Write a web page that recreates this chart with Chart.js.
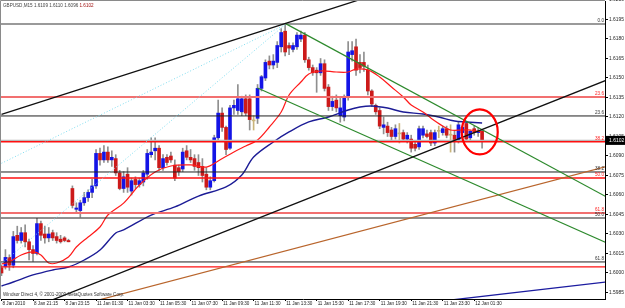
<!DOCTYPE html>
<html>
<head>
<meta charset="utf-8">
<script src="https://cdn.jsdelivr.net/npm/chart.js@4.4.0/dist/chart.umd.min.js"></script>
<style>
  html, body { margin: 0; padding: 0; background: #fff; }
  #wrap { width: 625px; height: 308px; }
</style>
</head>
<body>
<div id="wrap"><canvas id="chart" width="625" height="308"></canvas></div>
<script>
/* =============================================
   DATA — GBPUSD M15, 123 bars
   ============================================= */
const xLabels = ['8 Jan 2010', '8 Jan 21:15', '8 Jan 23:15', '11 Jan 01:30', '11 Jan 03:30',
  '11 Jan 05:30', '11 Jan 07:30', '11 Jan 09:30', '11 Jan 11:30', '11 Jan 13:30', '11 Jan 15:30',
  '11 Jan 17:30', '11 Jan 19:30', '11 Jan 21:30', '11 Jan 23:30', '12 Jan 01:30'];
const xTickBars = [0, 8, 16, 24, 32, 40, 48, 56, 64, 72, 80, 88, 96, 104, 112, 120];
const yTicks = [1.5985, 1.6000, 1.6015, 1.6030, 1.6045, 1.6060, 1.6075, 1.6090,
  1.6105, 1.6120, 1.6135, 1.6150, 1.6165, 1.6180, 1.6195, 1.6210];

const open = [
  1.6004, 1.6005, 1.6012, 1.6006, 1.6029, 1.6025, 1.6031, 1.6024, 1.6018, 1.6015,
  1.6038, 1.6030, 1.6027, 1.6031, 1.6028, 1.6026, 1.6027, 1.6025, 1.6065, 1.6049,
  1.6048, 1.6054, 1.6058, 1.6062, 1.6067, 1.6092, 1.6087, 1.6093, 1.6087, 1.6088,
  1.6077, 1.6065, 1.6076, 1.6063, 1.6072, 1.6068, 1.6070, 1.6076, 1.6091, 1.6094,
  1.6096, 1.6081, 1.6089, 1.6090, 1.6083, 1.6081, 1.6080, 1.6094, 1.6089, 1.6088,
  1.6085, 1.6082, 1.6076, 1.6066, 1.6071, 1.6104, 1.6123, 1.6112, 1.6096, 1.6127,
  1.6125, 1.6124, 1.6134, 1.6134, 1.6117, 1.6119, 1.6142, 1.6150, 1.6163, 1.6160,
  1.6162, 1.6174, 1.6186, 1.6175, 1.6172, 1.6174, 1.6180, 1.6183, 1.6164, 1.6158,
  1.6156, 1.6154, 1.6161, 1.6143, 1.6128, 1.6133, 1.6121, 1.6120, 1.6135, 1.6168,
  1.6174, 1.6162, 1.6162, 1.6156, 1.6140, 1.6129, 1.6125, 1.6112, 1.6113, 1.6110,
  1.6105, 1.6107, 1.6108, 1.6103, 1.6103, 1.6099, 1.6097, 1.6106, 1.6107, 1.6108,
  1.6100, 1.6109, 1.6108, 1.6111, 1.6106, 1.6106, 1.6101, 1.6108, 1.6115, 1.6104,
  1.6111, 1.6108, 1.6109];
const high = [
  1.6006, 1.6018, 1.6014, 1.6032, 1.6036, 1.6035, 1.6037, 1.6026, 1.6021, 1.6042,
  1.6040, 1.6036, 1.6035, 1.6033, 1.6031, 1.6029, 1.6028, 1.6026, 1.6067, 1.6054,
  1.6056, 1.6062, 1.6064, 1.6072, 1.6095, 1.6096, 1.6098, 1.6097, 1.6094, 1.6091,
  1.6079, 1.6078, 1.6081, 1.6073, 1.6074, 1.6073, 1.6079, 1.6095, 1.6104, 1.6104,
  1.6098, 1.6091, 1.6091, 1.6093, 1.6087, 1.6083, 1.6096, 1.6098, 1.6095, 1.6091,
  1.6091, 1.6088, 1.6081, 1.6074, 1.6106, 1.6133, 1.6127, 1.6113, 1.6129, 1.6133,
  1.6145, 1.6136, 1.6137, 1.6137, 1.6121, 1.6145, 1.6152, 1.6164, 1.6167, 1.6168,
  1.6178, 1.6188, 1.6192, 1.6177, 1.6177, 1.6185, 1.6186, 1.6185, 1.6166, 1.6160,
  1.6158, 1.6165, 1.6164, 1.6145, 1.6136, 1.6137, 1.6135, 1.6137, 1.6178, 1.6178,
  1.6180, 1.6168, 1.6170, 1.6160, 1.6141, 1.6130, 1.6127, 1.6120, 1.6116, 1.6112,
  1.6114, 1.6115, 1.6110, 1.6108, 1.6106, 1.6101, 1.6113, 1.6113, 1.6110, 1.6110,
  1.6110, 1.6113, 1.6113, 1.6113, 1.6114, 1.6109, 1.6116, 1.6113, 1.6116, 1.6110,
  1.6113, 1.6112, 1.6110];
const low = [
  1.5998, 1.6003, 1.6002, 1.6004, 1.6023, 1.6023, 1.6020, 1.6010, 1.6009, 1.6014,
  1.6025, 1.6023, 1.6024, 1.6025, 1.6023, 1.6023, 1.6024, 1.6024, 1.6050, 1.6046,
  1.6043, 1.6052, 1.6055, 1.6058, 1.6065, 1.6083, 1.6085, 1.6085, 1.6082, 1.6075,
  1.6064, 1.6062, 1.6062, 1.6060, 1.6065, 1.6066, 1.6067, 1.6072, 1.6089, 1.6087,
  1.6079, 1.6079, 1.6083, 1.6085, 1.6071, 1.6075, 1.6078, 1.6087, 1.6085, 1.6079,
  1.6075, 1.6070, 1.6064, 1.6064, 1.6070, 1.6102, 1.6109, 1.6091, 1.6095, 1.6122,
  1.6122, 1.6121, 1.6121, 1.6110, 1.6110, 1.6115, 1.6140, 1.6148, 1.6157, 1.6157,
  1.6158, 1.6170, 1.6167, 1.6168, 1.6170, 1.6172, 1.6178, 1.6162, 1.6156, 1.6152,
  1.6139, 1.6152, 1.6140, 1.6125, 1.6125, 1.6124, 1.6116, 1.6117, 1.6133, 1.6163,
  1.6152, 1.6154, 1.6155, 1.6137, 1.6128, 1.6122, 1.6111, 1.6107, 1.6105, 1.6102,
  1.6103, 1.6100, 1.6101, 1.6100, 1.6093, 1.6094, 1.6095, 1.6104, 1.6104, 1.6098,
  1.6098, 1.6104, 1.6106, 1.6104, 1.6093, 1.6093, 1.6100, 1.6105, 1.6101, 1.6102,
  1.6106, 1.6105, 1.6096];
const close = [
  1.6000, 1.6012, 1.6006, 1.6028, 1.6025, 1.6031, 1.6024, 1.6018, 1.6015, 1.6038,
  1.6029, 1.6027, 1.6030, 1.6027, 1.6025, 1.6024, 1.6025, 1.6024, 1.6052, 1.6050,
  1.6054, 1.6058, 1.6062, 1.6067, 1.6092, 1.6087, 1.6093, 1.6087, 1.6089, 1.6077,
  1.6065, 1.6074, 1.6066, 1.6071, 1.6068, 1.6071, 1.6077, 1.6092, 1.6093, 1.6096,
  1.6081, 1.6088, 1.6085, 1.6087, 1.6073, 1.6078, 1.6093, 1.6089, 1.6087, 1.6082,
  1.6081, 1.6075, 1.6066, 1.6071, 1.6104, 1.6123, 1.6112, 1.6095, 1.6127, 1.6129,
  1.6134, 1.6134, 1.6123, 1.6118, 1.6117, 1.6142, 1.6151, 1.6162, 1.6160, 1.6163,
  1.6175, 1.6185, 1.6170, 1.6173, 1.6175, 1.6183, 1.6183, 1.6164, 1.6158, 1.6154,
  1.6154, 1.6161, 1.6142, 1.6128, 1.6132, 1.6127, 1.6127, 1.6135, 1.6170, 1.6171,
  1.6156, 1.6158, 1.6159, 1.6140, 1.6130, 1.6124, 1.6113, 1.6114, 1.6108, 1.6105,
  1.6111, 1.6107, 1.6103, 1.6106, 1.6096, 1.6096, 1.6111, 1.6111, 1.6105, 1.6100,
  1.6108, 1.6109, 1.6111, 1.6106, 1.6106, 1.6101, 1.6114, 1.6112, 1.6103, 1.6109,
  1.6108, 1.6109, 1.6102];

/* moving averages, read at a handful of bars */
const redMaBars = [0, 2, 5, 8, 10, 12, 14, 17, 19, 22, 25, 27, 31, 35, 39, 43, 48, 52, 55, 59,
  62, 65, 68, 71, 73, 76, 78, 81, 85, 88, 90, 93, 96, 99, 102, 104, 107, 109, 112, 114, 117, 119, 122];
const redMaValues = [1.60069, 1.60085, 1.60138, 1.60162, 1.60138, 1.60077, 1.60077, 1.60123, 1.60200,
  1.60277, 1.60354, 1.60446, 1.60538, 1.60677, 1.60777, 1.60823, 1.60831, 1.60815, 1.60862, 1.60931,
  1.60977, 1.61023, 1.61123, 1.61238, 1.61369, 1.61469, 1.61531, 1.61554, 1.61546, 1.61546, 1.61569,
  1.61562, 1.61508, 1.61431, 1.61354, 1.61292, 1.61238, 1.61192, 1.61131, 1.61100, 1.61100, 1.61100,
  1.61085];
const blueMaBars = [0, 3, 8, 13, 17, 21, 25, 29, 31, 38, 44, 50, 57, 61, 64, 69, 73, 78, 83, 88,
  91, 94, 98, 102, 107, 111, 115, 118, 122];
const blueMaValues = [1.59900, 1.59931, 1.59985, 1.60023, 1.60046, 1.60100, 1.60177, 1.60308, 1.60331,
  1.60446, 1.60508, 1.60592, 1.60662, 1.60754, 1.60892, 1.61008, 1.61085, 1.61162, 1.61200, 1.61254,
  1.61277, 1.61285, 1.61269, 1.61238, 1.61223, 1.61200, 1.61169, 1.61162, 1.61154];

/* horizontal levels (two fibonacci retracements + bid) */
const redFibLevels = [1.61354, 1.61010, 1.60731, 1.60462, 1.60047];
const redFibLabels = ['23.6', '38.2', '50.0', '61.8', ''];
const blackFibLevels = [1.61915, 1.61208, 1.60777, 1.60423, 1.60085];
const blackFibLabels = ['0.0', '23.6', '38.2', '50.0', '61.8'];
const bidPrice = 1.6102;

/* trend lines: [bar, price] pairs */
const blackUpper = [[0, 1.61221], [92, 1.62113]];
const blackLower = [[12, 1.59782], [154, 1.61488]];
const greenUpper = [[72, 1.61920], [154, 1.60578]];
const greenLower = [[65, 1.61423], [154, 1.60227]];
const brownLine  = [[20, 1.59755], [154, 1.60823]];
const navyLine   = [[110, 1.59778], [154, 1.59932]];
const cyanFanA   = [[0, 1.60844], [72, 1.61910]];
const cyanFanB   = [[0, 1.60072], [72, 1.61910]];

/* marker ellipse around the last bars */
const ringCenter = [121.4, 1.61085];
const ringRadius = [4.57, 0.00173];

/* =============================================
   CHART
   ============================================= */
const bars = open.map((_, i) => i);
const UP = '#1414e6', DOWN = '#cc1a1a', DOJI = '#c9b47a', WICK = '#8f8f8f';
const FONT = '"Liberation Sans", Arial, sans-serif';

function lineSet(points, color, width, order, dash) {
  return {
    type: 'line',
    data: points.map(p => ({ x: p[0], y: p[1] })),
    borderColor: color,
    borderWidth: width,
    borderDash: dash || [],
    pointRadius: 0,
    tension: 0,
    order: order,
  };
}

function levelSet(price, color, width, order) {
  return lineSet([[-2, price], [160, price]], color, width, order);
}

function maSet(barsArr, values, color, width) {
  return {
    type: 'line',
    data: barsArr.map((b, i) => ({ x: b, y: values[i] })),
    borderColor: color,
    borderWidth: width,
    pointRadius: 0,
    tension: 0.35,
    order: 8,
  };
}

const datasets = [
  {
    type: 'bar',
    data: bars.map(i => ({ x: i, y: [low[i], high[i]] })),
    backgroundColor: bars.map(i => open[i] === close[i] ? DOJI : WICK),
    barThickness: 1,
    grouped: false,
    order: 20,
  },
  {
    type: 'bar',
    data: bars.map(i => ({ x: i, y: [open[i], close[i]] })),
    backgroundColor: bars.map(i => close[i] > open[i] ? UP : close[i] < open[i] ? DOWN : DOJI),
    barThickness: 3,
    minBarLength: 1,
    grouped: false,
    order: 19,
  },
  maSet(redMaBars, redMaValues, '#ff1a1a', 1.2),
  maSet(blueMaBars, blueMaValues, '#1c1c96', 1.4),
  levelSet(blackFibLevels[0], '#9a9a9a', 2, 6),
  levelSet(blackFibLevels[1], '#202020', 1, 6),
  levelSet(blackFibLevels[2], '#202020', 1, 6),
  levelSet(blackFibLevels[3], '#202020', 1, 6),
  levelSet(blackFibLevels[4], '#202020', 1, 6),
  levelSet(bidPrice, '#b8b8b8', 1.5, 6),
  levelSet(redFibLevels[0], '#f27070', 2, 5),
  levelSet(redFibLevels[1], '#ff1010', 1.4, 5),
  levelSet(redFibLevels[2], '#ff1010', 1.4, 5),
  levelSet(redFibLevels[3], '#f27070', 2, 5),
  levelSet(redFibLevels[4], '#ff1010', 1.4, 5),
  lineSet(cyanFanA, '#7fdcef', 1, 4, [1, 2]),
  lineSet(cyanFanB, '#7fdcef', 1, 4, [1, 2]),
  lineSet(blackUpper, '#101010', 1.3, 3),
  lineSet(blackLower, '#101010', 1.3, 3),
  lineSet(greenUpper, '#2d8a2d', 1.2, 3),
  lineSet(greenLower, '#2d8a2d', 1.2, 3),
  lineSet(brownLine, '#b9652c', 1.2, 3),
  lineSet(navyLine, '#1c1ca0', 1.3, 3),
];

/* texts, ellipse, price box, frame */
const overlay = {
  id: 'overlay',
  afterDatasetsDraw(chart) {
    const { ctx, chartArea: a, scales: { x, y } } = chart;
    ctx.save();
    ctx.font = `4.6px ${FONT}`;
    ctx.textAlign = 'right';
    ctx.textBaseline = 'bottom';
    blackFibLevels.forEach((lv, i) => {
      ctx.fillStyle = '#333';
      ctx.fillText(blackFibLabels[i], a.right - 1, y.getPixelForValue(lv) - 1);
    });
    redFibLevels.forEach((lv, i) => {
      ctx.fillStyle = '#ff2020';
      ctx.fillText(redFibLabels[i], a.right - 1, y.getPixelForValue(lv) - 1);
    });

    // red ring
    const cx = x.getPixelForValue(ringCenter[0]);
    const cy = y.getPixelForValue(ringCenter[1]);
    const rx = x.getPixelForValue(ringCenter[0] + ringRadius[0]) - cx;
    const ry = cy - y.getPixelForValue(ringCenter[1] + ringRadius[1]);
    ctx.beginPath();
    ctx.ellipse(cx, cy, rx, ry, 0, 0, Math.PI * 2);
    ctx.strokeStyle = '#ff0000';
    ctx.lineWidth = 2.2;
    ctx.stroke();
    ctx.restore();
  },
  afterDraw(chart) {
    const { ctx, chartArea: a, scales: { y } } = chart;
    ctx.save();
    // frame
    ctx.strokeStyle = '#8a8a8a';
    ctx.lineWidth = 1;
    ctx.beginPath();
    ctx.moveTo(0.5, a.bottom);
    ctx.lineTo(0.5, 0.5);
    ctx.lineTo(a.right, 0.5);
    ctx.stroke();

    // header
    ctx.font = `4.6px ${FONT}`;
    ctx.textAlign = 'left';
    ctx.textBaseline = 'middle';
    const head = 'GBPUSD,M15 1.6109 1.6110 1.6096 ';
    ctx.fillStyle = '#444';
    ctx.fillText(head, 3, 6);
    ctx.fillStyle = '#a01010';
    ctx.fillText('1.6102', 3 + ctx.measureText(head).width, 6);

    // footer
    ctx.fillStyle = '#333';
    ctx.fillText('Windsor Direct 4, \u00a9 2001-2009 MetaQuotes Software Corp.', 3, a.bottom - 4);

    // bid price box
    const py = y.getPixelForValue(bidPrice);
    ctx.fillStyle = '#000';
    ctx.fillRect(a.right + 1, py - 4.5, 30, 9);
    ctx.fillStyle = '#fff';
    ctx.font = `5px ${FONT}`;
    ctx.fillText(bidPrice.toFixed(4), a.right + 4, py);
    ctx.restore();
  },
};

new Chart(document.getElementById('chart'), {
  type: 'bar',
  data: { datasets },
  plugins: [overlay],
  options: {
    responsive: false,
    animation: false,
    events: [],
    layout: { padding: { top: 1, left: 1, right: 0, bottom: 0 } },
    plugins: { legend: { display: false }, tooltip: { enabled: false } },
    scales: {
      x: {
        type: 'linear',
        position: 'bottom',
        min: -0.127,
        max: 153.2,
        offset: false,
        afterBuildTicks: axis => { axis.ticks = xTickBars.map(v => ({ value: v })); },
        afterFit: axis => { axis.height = 9; axis.paddingLeft = 0; axis.paddingRight = 0; },
        grid: { drawOnChartArea: false, offset: false, tickLength: 2, color: '#000' },
        border: { color: '#000', width: 1 },
        ticks: {
          autoSkip: false,
          maxRotation: 0,
          align: 'start',
          padding: 0,
          labelOffset: 1,
          color: '#222',
          font: { size: 4.6, family: FONT },
          callback: (v, i) => xLabels[i],
        },
      },
      y: {
        type: 'linear',
        position: 'right',
        min: 1.598,
        max: 1.620923,
        afterBuildTicks: axis => { axis.ticks = yTicks.map(v => ({ value: v })); },
        afterFit: axis => { axis.width = 20; axis.paddingTop = 0; axis.paddingBottom = 0; },
        grid: { drawOnChartArea: false, tickLength: 3, color: '#000' },
        border: { color: '#000', width: 1 },
        ticks: {
          padding: 1,
          color: '#222',
          font: { size: 4.9, family: FONT },
          callback: v => v.toFixed(4),
        },
      },
    },
  },
});
</script>
</body>
</html>
